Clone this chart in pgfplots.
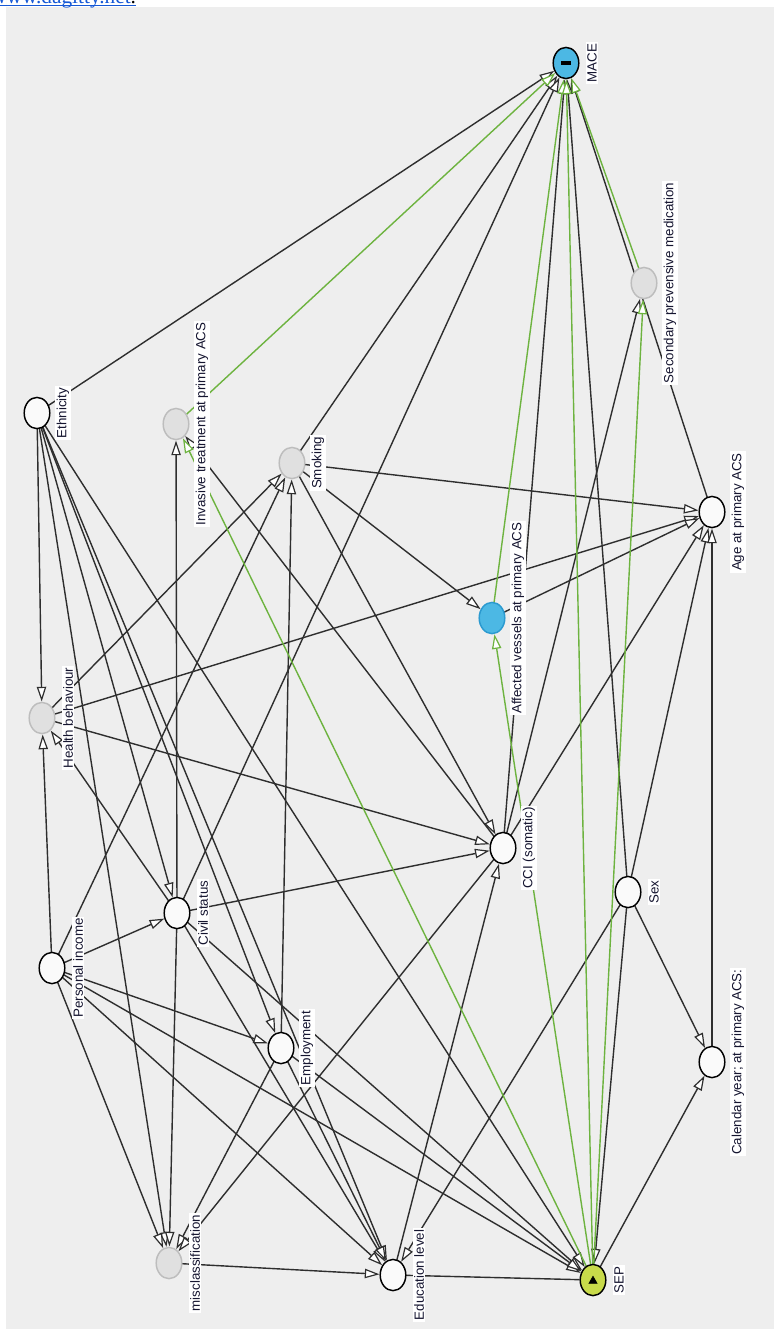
\documentclass[border=0pt]{standalone}
\usepackage{pgfplots}
\pgfplotsset{compat=1.18}
\usepackage{fontspec}
\setmainfont{Liberation Sans}
\newfontfamily\serifl{Liberation Serif}
\usetikzlibrary{arrows.meta}
\definecolor{bg}{HTML}{EEEEEE}
\definecolor{grnc}{HTML}{6DB33F}
\definecolor{edgec}{HTML}{2E2E2E}
\definecolor{outc}{HTML}{4CB8E4}
\definecolor{outd}{HTML}{2B9AD0}
\definecolor{expo}{HTML}{C8DA4A}
\definecolor{latf}{HTML}{E0E0E0}
\definecolor{latd}{HTML}{BDBDBD}
\definecolor{linkc}{HTML}{1558D6}
\definecolor{txt}{HTML}{151530}
\tikzset{lbl/.style={rotate=90,fill=white,inner sep=1.2pt,text=txt,font=\fontsize{10}{12}\selectfont}}
% node positions (pixels, y downward)
\def\xMACE{566}\def\yMACE{63}
\def\xMed{644}\def\yMed{283}
\def\xEth{37}\def\yEth{413}
\def\xInv{176}\def\yInv{424}
\def\xSmk{292}\def\ySmk{463}
\def\xAge{712}\def\yAge{512}
\def\xVes{492}\def\yVes{618}
\def\xHb{42}\def\yHb{718}
\def\xCCI{503}\def\yCCI{848}
\def\xSex{628}\def\ySex{892}
\def\xCiv{177}\def\yCiv{913}
\def\xPI{52}\def\yPI{968}
\def\xEmp{281}\def\yEmp{1048}
\def\xCal{712}\def\yCal{1062}
\def\xMis{169}\def\yMis{1263}
\def\xEdu{393}\def\yEdu{1275}
\def\xSEP{593}\def\ySEP{1280}
\newcommand\ED[3]{%
 \pgfmathsetmacro\dx{\csname x#2\endcsname-\csname x#1\endcsname}%
 \pgfmathsetmacro\dy{\csname y#2\endcsname-\csname y#1\endcsname}%
 \pgfmathsetmacro\ang{atan2(\dy,\dx)}%
 \pgfmathsetmacro\rr{0.75/sqrt((cos(\ang)/13.5)^2+(sin(\ang)/16.5)^2)}%
 \edef\tmp{\noexpand\addplot[#3,shorten >=\rr pt] coordinates {(\csname x#1\endcsname,\csname y#1\endcsname) (\csname x#2\endcsname,\csname y#2\endcsname)};}%
 \tmp}
\newcommand\NL[2]{%
 \edef\tmp{\noexpand\node[lbl] at (axis cs:\the\numexpr\csname x#1\endcsname+26\relax,\csname y#1\endcsname) {\unexpanded{#2}};}%
 \tmp}
\begin{document}
\begin{tikzpicture}
\begin{axis}[width=580.5pt,height=996.75pt,scale only axis,
 xmin=0,xmax=774,ymin=0,ymax=1329,y dir=reverse,hide axis,clip=true,
 blk/.style={edgec,line width=1.05pt,-{Triangle[length=11pt,width=7pt,fill=white,line width=0.9pt]}},
 grnA/.style={grnc,line width=1.05pt,-{Triangle[length=11pt,width=7pt,fill=white,line width=0.9pt]}},
 nar/.style={edgec,line width=1.05pt},
]
\addplot[fill=white,draw=none] coordinates {(0,0) (774,0) (774,1329) (0,1329)} \closedcycle;
\addplot[fill=bg,draw=none] coordinates {(6,7) (774,7) (774,1329) (6,1329)} \closedcycle;
\addplot[linkc,line width=1pt] coordinates {(0,5.5) (136,5.5)};
\node[overlay,anchor=base west,inner sep=0,text=linkc,font=\serifl\fontsize{16}{18}\selectfont] at (axis cs:-9,3.5) {www.dagitty.net\textcolor{black}{.}};
% black edges
\ED{Eth}{MACE}{blk}
\ED{Smk}{MACE}{blk}
\ED{Civ}{MACE}{blk}
\ED{CCI}{MACE}{blk}
\ED{Sex}{MACE}{blk}
\ED{Age}{MACE}{blk}
\ED{Eth}{Hb}{blk}
\ED{Eth}{Mis}{blk}
\ED{Eth}{Civ}{blk}
\ED{Eth}{Emp}{blk}
\ED{Eth}{Edu}{blk}
\ED{Eth}{SEP}{blk}
\ED{Civ}{Inv}{blk}
\ED{CCI}{Inv}{blk}
\ED{Smk}{Age}{blk}
\ED{Smk}{Ves}{blk}
\ED{Smk}{CCI}{blk}
\ED{Hb}{Age}{blk}
\ED{Hb}{CCI}{blk}
\ED{Hb}{Smk}{blk}
\ED{Civ}{Hb}{blk}
\ED{PI}{Hb}{blk}
\ED{PI}{Civ}{blk}
\ED{PI}{Smk}{blk}
\ED{PI}{Emp}{blk}
\ED{PI}{Mis}{blk}
\ED{PI}{Edu}{blk}
\ED{PI}{SEP}{blk}
\ED{Civ}{CCI}{blk}
\ED{Civ}{SEP}{blk}
\ED{Civ}{Edu}{blk}
\ED{Civ}{Mis}{blk}
\ED{Emp}{Smk}{blk}
\ED{Emp}{Mis}{blk}
\ED{Emp}{SEP}{blk}
\ED{Emp}{Edu}{blk}
\ED{CCI}{Med}{blk}
\ED{CCI}{Age}{blk}
\ED{CCI}{Mis}{blk}
\ED{Edu}{CCI}{blk}
\ED{Mis}{Edu}{blk}
\ED{Edu}{SEP}{nar}
\ED{Sex}{SEP}{blk}
\ED{Sex}{Edu}{blk}
\ED{Sex}{Cal}{blk}
\ED{Sex}{Age}{blk}
\ED{Cal}{Age}{blk}
\ED{SEP}{Cal}{blk}
\ED{Ves}{Age}{blk}
% green (causal) edges
\ED{Inv}{MACE}{grnA}
\ED{Ves}{MACE}{grnA}
\ED{SEP}{MACE}{grnA}
\ED{Med}{MACE}{grnA}
\ED{SEP}{Med}{grnA}
\ED{SEP}{Ves}{grnA}
\ED{SEP}{Inv}{grnA}
% nodes
\addplot[only marks,mark=*,mark size=9.6pt,mark options={yscale=1.22,fill=white!98!black,draw=black,line width=1.1pt}]
 coordinates {(37,413) (712,512) (503,848) (628,892) (177,913) (52,968) (281,1048) (712,1062) (393,1275)};
\addplot[only marks,mark=*,mark size=9.6pt,mark options={yscale=1.22,fill=latf,draw=latd,line width=1.1pt}]
 coordinates {(644,283) (176,424) (292,463) (42,718) (169,1263)};
\addplot[only marks,mark=*,mark size=9.6pt,mark options={yscale=1.22,fill=outc,draw=outd,line width=1.1pt}]
 coordinates {(492,618)};
\addplot[only marks,mark=*,mark size=9.6pt,mark options={yscale=1.22,fill=outc,draw=black,line width=1.1pt}]
 coordinates {(566,63)};
\addplot[only marks,mark=*,mark size=9.6pt,mark options={yscale=1.22,fill=expo,draw=black,line width=1.1pt}]
 coordinates {(593,1280)};
\addplot[only marks,mark=-,mark size=3.8pt,mark options={draw=black,line width=2.6pt}] coordinates {(566,63)};
\addplot[only marks,mark=triangle*,mark size=3.6pt,mark options={fill=black,draw=black}] coordinates {(593,1281)};
% labels
\NL{MACE}{MACE}
\NL{Med}{Secondary prevensive medication}
\NL{Eth}{Ethnicity}
\NL{Inv}{Invasive treatment at primary ACS}
\NL{Smk}{Smoking}
\NL{Age}{Age at primary ACS}
\NL{Ves}{Affected vessels at primary ACS}
\NL{Hb}{Health behaviour}
\NL{CCI}{CCI (somatic)}
\NL{Sex}{Sex}
\NL{Civ}{Civil status}
\NL{PI}{Personal income}
\NL{Emp}{Employment}
\NL{Cal}{Calendar year; at primary ACS:}
\NL{Mis}{misclassification}
\NL{Edu}{Education level}
\NL{SEP}{SEP}
\end{axis}
\end{tikzpicture}
\end{document}
